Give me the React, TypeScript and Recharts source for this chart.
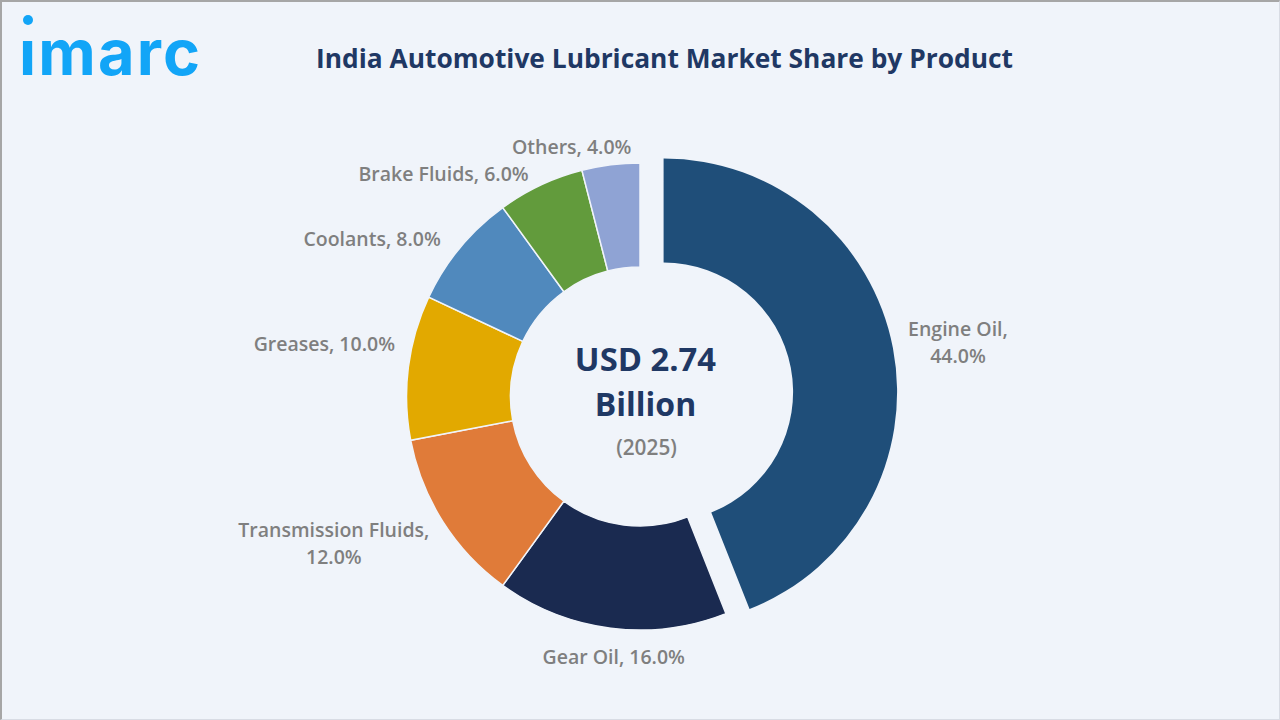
import React from 'react';
import { PieChart, Pie, Cell } from 'recharts';

const products = ['Engine Oil', 'Gear Oil', 'Transmission Fluids', 'Greases', 'Coolants', 'Brake Fluids', 'Others'];
const shares = [44, 16, 12, 10, 8, 6, 4];
const sliceColors = ['#1f4e79', '#1a2a50', '#e07b39', '#e2a900', '#5089bd', '#629b3c', '#8fa3d4'];
// label text lines, Engine Oil and Transmission Fluids wrap on two rows
const labelLines = [
  ['Engine Oil,', '44.0%'],
  ['Gear Oil, 16.0%'],
  ['Transmission Fluids,', '12.0%'],
  ['Greases, 10.0%'],
  ['Coolants, 8.0%'],
  ['Brake Fluids, 6.0%'],
  ['Others, 4.0%'],
];
// shift of each label from the slice's outer edge midpoint
const labelNudge = [
  [65, -7],
  [3, 28],
  [-109, 21],
  [-84, -24],
  [-88, -10],
  [-97, -12],
  [-39, -19],
];

const data = products.map((name, i) => ({ name, value: shares[i] }));

const FONT = '"Open Sans", sans-serif';
const BG = '#f0f4fa';
const LOGO = '#12a5f7';
const RAD = Math.PI / 180;

const renderLabel = (show: (i: number) => boolean) => (p: any) => {
  if (!show(p.index)) return null;
  const lines = labelLines[p.index];
  const [dx, dy] = labelNudge[p.index];
  const x = p.cx + p.outerRadius * Math.cos(p.midAngle * RAD) + dx;
  const y = p.cy - p.outerRadius * Math.sin(p.midAngle * RAD) + dy;
  const top = y - ((lines.length - 1) * 27) / 2;
  return (
    <text key={p.index} textAnchor="middle" dominantBaseline="central" fontFamily={FONT} fontWeight={600} fontSize={19.5} fill="#7f7f7f">
      {lines.map((t, k) => (
        <tspan key={k} x={x} y={top + k * 27}>{t}</tspan>
      ))}
    </text>
  );
};

export default function App() {
  return (
    <div style={{ position: 'relative', width: 1280, height: 720, background: BG, overflow: 'hidden' }}>
      <style>{'body{margin:0}'}</style>
      <div style={{ position: 'absolute', inset: 0, borderTop: '2px solid #a6a6a6', borderLeft: '2px solid #a6a6a6', borderRight: '1px solid #d8dce4', borderBottom: '1px solid #d8dce4', boxSizing: 'border-box', pointerEvents: 'none' }} />
      <PieChart width={1280} height={720} margin={{ top: 0, right: 0, bottom: 0, left: 0 }}>
        <text x={19} y={75} fontFamily="Inter, sans-serif" fontWeight={700} fontSize={63} letterSpacing={2.2} fill={LOGO}>imarc</text>
        {/* the logo's i dot sits higher than the font's */}
        <rect x={18} y={22} width={22} height={18} fill={BG} />
        <circle cx={28} cy={20} r={5} fill={LOGO} />
        <text x={664.5} y={58} textAnchor="middle" dominantBaseline="central" fontFamily={FONT} fontWeight={700} fontSize={26.35} fill="#1f3864">
          India Automotive Lubricant Market Share by Product
        </text>
        {/* exploded Engine Oil slice, the rest is left unpainted */}
        <Pie
          data={data}
          dataKey="value"
          cx={663.6}
          cy={392}
          innerRadius={129.5}
          outerRadius={233.5}
          startAngle={90}
          endAngle={-270}
          isAnimationActive={false}
          labelLine={false}
          label={renderLabel((i) => i === 0)}
        >
          {data.map((d, i) => (
            <Cell key={d.name} fill={i === 0 ? sliceColors[i] : 'none'} stroke="none" />
          ))}
        </Pie>
        <Pie
          data={data}
          dataKey="value"
          cx={640}
          cy={396.5}
          innerRadius={129.5}
          outerRadius={233.5}
          startAngle={90}
          endAngle={-270}
          isAnimationActive={false}
          labelLine={false}
          label={renderLabel((i) => i !== 0)}
        >
          {data.map((d, i) => (
            <Cell key={d.name} fill={i === 0 ? 'none' : sliceColors[i]} stroke={i === 0 ? 'none' : BG} strokeWidth={1.5} />
          ))}
        </Pie>
        <text x={645.5} y={358} textAnchor="middle" dominantBaseline="central" fontFamily={FONT} fontWeight={700} fontSize={32.8} fill="#1f3864">USD 2.74</text>
        <text x={645.5} y={403} textAnchor="middle" dominantBaseline="central" fontFamily={FONT} fontWeight={700} fontSize={32} fill="#1f3864">Billion</text>
        <text x={646.5} y={447} textAnchor="middle" dominantBaseline="central" fontFamily={FONT} fontWeight={600} fontSize={20.8} fill="#7f7f7f">(2025)</text>
      </PieChart>
    </div>
  );
}
